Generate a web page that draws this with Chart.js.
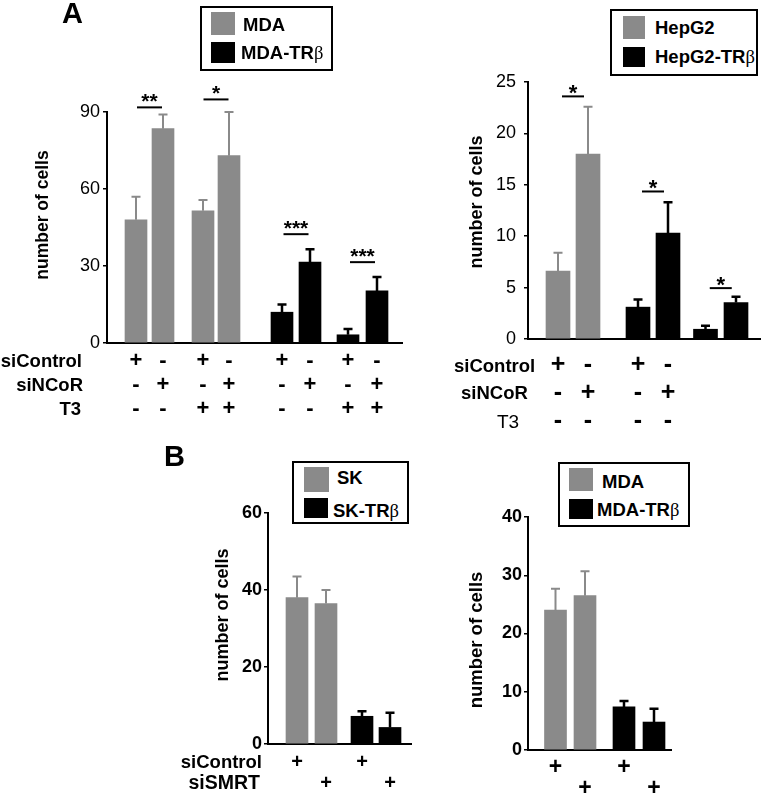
<!DOCTYPE html>
<html><head><meta charset="utf-8">
<script src="https://cdn.jsdelivr.net/npm/chart.js@4"></script>
<style>
html,body{margin:0;padding:0;background:#fff;}
#wrap{position:relative;width:762px;height:797px;overflow:hidden;font-family:"Liberation Sans",Arial,sans-serif;color:#000;}
canvas{position:absolute;left:0;top:0;}
.letter{position:absolute;font-weight:bold;font-size:29px;line-height:1;transform:translateY(-50%);}
.leg{position:absolute;border:2px solid #000;box-sizing:border-box;background:#fff;}
.sw{position:absolute;}
.lt{position:absolute;font-weight:bold;font-size:18.5px;line-height:1;white-space:nowrap;transform:translateY(-50%);}
.beta{font-family:"Liberation Serif","DejaVu Serif",serif;font-weight:normal;}
</style>
</head><body>
<div id="wrap">
  <div class="letter" style="left:62px;top:13px;">A</div>
  <div class="letter" style="left:164px;top:456px;">B</div>

  <div class="leg" style="left:200px;top:6px;width:133px;height:65px;"></div>
  <div class="sw" style="left:211px;top:12px;width:24px;height:23px;background:#8a8a8a;"></div>
  <div class="sw" style="left:211px;top:42px;width:24px;height:21px;background:#000;"></div>
  <div class="lt" style="left:243px;top:25px;">MDA</div>
  <div class="lt" style="left:241px;top:53px;">MDA-TR<span class="beta">β</span></div>

  <div class="leg" style="left:610px;top:9px;width:148px;height:67px;"></div>
  <div class="sw" style="left:623px;top:16px;width:22px;height:23px;background:#8a8a8a;"></div>
  <div class="sw" style="left:623px;top:47px;width:22px;height:20px;background:#000;"></div>
  <div class="lt" style="left:655px;top:28px;">HepG2</div>
  <div class="lt" style="left:655px;top:57px;">HepG2-TR<span class="beta">β</span></div>

  <div class="leg" style="left:292px;top:461px;width:117px;height:63px;"></div>
  <div class="sw" style="left:304px;top:467px;width:25px;height:25px;background:#8a8a8a;"></div>
  <div class="sw" style="left:304px;top:498px;width:24px;height:20px;background:#000;"></div>
  <div class="lt" style="left:337px;top:478px;">SK</div>
  <div class="lt" style="left:333px;top:511px;">SK-TR<span class="beta">β</span></div>

  <div class="leg" style="left:558px;top:462px;width:132px;height:65px;"></div>
  <div class="sw" style="left:569px;top:468px;width:24px;height:23px;background:#8a8a8a;"></div>
  <div class="sw" style="left:569px;top:499px;width:24px;height:20px;background:#000;"></div>
  <div class="lt" style="left:602px;top:482px;">MDA</div>
  <div class="lt" style="left:597px;top:510px;">MDA-TR<span class="beta">β</span></div>
</div>
<script>
// ---------- DATA ----------
// Panel A (left): MDA vs MDA-TRβ, siControl / siNCoR, ± T3
const A1_seriesNames = ['MDA', 'MDA-TRβ'];
const A1_mda      = [48, 83.5, 51.5, 73];
const A1_mda_err  = [9, 5.5, 4.2, 17];
const A1_tr       = [12, 31.5, 3.2, 20.3];
const A1_tr_err   = [3, 5, 2.3, 5.4];
const A1_siControl = ['+','-','+','-','+','-','+','-'];
const A1_siNCoR    = ['-','+','-','+','-','+','-','+'];
const A1_T3        = ['-','-','+','+','-','-','+','+'];
const A1_sig       = ['**','*','***','***'];
const A1_sigLevel  = [91.8, 94.9, 42.4, 31.5];
const A1_ticks     = [0, 30, 60, 90];

// Panel A (right): HepG2 vs HepG2-TRβ
const A2_seriesNames = ['HepG2', 'HepG2-TRβ'];
const A2_hep      = [6.6, 18.0];
const A2_hep_err  = [1.8, 4.6];
const A2_tr       = [3.1, 10.3, 0.95, 3.55];
const A2_tr_err   = [0.75, 3.0, 0.35, 0.55];
const A2_siControl = ['+','-','+','-','',''];
const A2_siNCoR    = ['-','+','-','+','',''];
const A2_T3        = ['-','-','-','-','',''];
const A2_sig       = ['*','*','*'];
const A2_sigLevel  = [23.6, 14.35, 4.95];
const A2_ticks     = [0, 5, 10, 15, 20, 25];

// Panel B (left): SK vs SK-TRβ, siControl / siSMRT
const B1_seriesNames = ['SK', 'SK-TRβ'];
const B1_sk       = [38, 36.5];
const B1_sk_err   = [5.5, 3.5];
const B1_tr       = [7.2, 4.3];
const B1_tr_err   = [1.3, 3.8];
const B1_siControl = ['+','','+',''];
const B1_siSMRT    = ['','+','','+'];
const B1_ticks     = [0, 20, 40, 60];

// Panel B (right): MDA vs MDA-TRβ
const B2_seriesNames = ['MDA', 'MDA-TRβ'];
const B2_mda      = [24, 26.5];
const B2_mda_err  = [3.7, 4.2];
const B2_tr       = [7.4, 4.8];
const B2_tr_err   = [1.0, 2.3];
const B2_row1     = ['+','','+',''];
const B2_row2     = ['','+','','+'];
const B2_ticks    = [0, 10, 20, 30, 40];

const GRAY = '#8a8a8a', BLACK = '#000000';
const FONT = '"Liberation Sans", Arial, sans-serif';

// ---------- drawing plugin (error bars, significance, condition table, axis title) ----------
const panelPlugin = {
  id: 'panel',
  afterDatasetsDraw(chart, args, o) {
    const ctx = chart.ctx, xs = chart.scales.x, ys = chart.scales.y;
    ctx.save();
    // error bars
    chart.data.datasets.forEach((ds, di) => {
      const errs = o.errors[di];
      ds.data.forEach((p, i) => {
        const x = xs.getPixelForValue(p.x);
        const y0 = ys.getPixelForValue(p.y);
        const y1 = ys.getPixelForValue(p.y + errs[i]);
        ctx.strokeStyle = ds.backgroundColor;
        ctx.lineWidth = ds.backgroundColor === BLACK ? 2.5 : 2;
        ctx.beginPath();
        ctx.moveTo(x, y0); ctx.lineTo(x, y1);
        ctx.moveTo(x - 4.5, y1); ctx.lineTo(x + 4.5, y1);
        ctx.stroke();
      });
    });
    // significance brackets
    const all = [];
    chart.data.datasets.forEach(ds => ds.data.forEach(p => all.push(p.x)));
    all.sort((a, b) => a - b);
    (o.sig || []).forEach((s, k) => {
      const xa = xs.getPixelForValue(all[2 * k]);
      const xb = xs.getPixelForValue(all[2 * k + 1]);
      const mid = (xa + xb) / 2;
      const y = ys.getPixelForValue(o.sigLevel[k]);
      ctx.strokeStyle = '#000'; ctx.lineWidth = 2;
      ctx.beginPath(); ctx.moveTo(mid - o.sigHalf, y); ctx.lineTo(mid + o.sigHalf, y); ctx.stroke();
      ctx.fillStyle = '#000';
      ctx.font = 'bold ' + o.starSize + 'px ' + FONT;
      ctx.textAlign = 'center'; ctx.textBaseline = 'alphabetic';
      ctx.fillText(s, mid, y + o.starDy);
    });
    // condition table
    const bottom = chart.chartArea.bottom;
    o.rows.forEach(r => {
      const y = bottom + r.dy;
      ctx.fillStyle = '#000';
      ctx.textBaseline = 'middle';
      ctx.font = 'bold ' + o.signSize + 'px ' + FONT;
      ctx.textAlign = 'center';
      r.signs.forEach((sg, i) => { if (sg) ctx.fillText(sg, xs.getPixelForValue(all[i]), y); });
      if (r.label) {
        ctx.font = r.font + ' ' + FONT;
        ctx.textAlign = r.align;
        ctx.fillText(r.label, r.lx, y + 1);
      }
    });
    // y axis title
    const t = o.title;
    ctx.translate(t.x, t.y);
    ctx.rotate(-Math.PI / 2);
    ctx.font = 'bold ' + t.size + 'px ' + FONT;
    ctx.textAlign = 'center'; ctx.textBaseline = 'middle';
    ctx.fillStyle = '#000';
    ctx.fillText('number of cells', 0, 0);
    ctx.restore();
  }
};

const wrap = document.getElementById('wrap');
function makePanel(cfg) {
  const cv = document.createElement('canvas');
  cv.width = 762; cv.height = 797;
  wrap.insertBefore(cv, wrap.firstChild);
  const L = cfg.layout;
  const nA = cfg.a.length;
  const datasets = [
    { label: cfg.names[0], data: cfg.a.map((v, i) => ({ x: L.xs[i], y: v })), backgroundColor: GRAY },
    { label: cfg.names[1], data: cfg.b.map((v, i) => ({ x: L.xs[nA + i], y: v })), backgroundColor: BLACK }
  ];
  datasets.forEach(d => { d.barThickness = L.barW; d.grouped = false; d.borderWidth = 0; });
  return new Chart(cv, {
    type: 'bar',
    data: { datasets },
    options: {
      responsive: false, animation: false, devicePixelRatio: 1, events: [],
      layout: { padding: { left: L.axisX - 60, top: L.top, right: 762 - (L.axisX + L.len), bottom: 797 - L.bottom - 10 } },
      plugins: {
        legend: { display: false }, tooltip: { enabled: false },
        panel: Object.assign({ errors: [cfg.aErr, cfg.bErr] }, cfg.extra)
      },
      scales: {
        x: {
          type: 'linear', min: 0, max: L.len, offset: false,
          grid: { display: false }, ticks: { display: false },
          border: { display: true, color: '#000', width: 2 },
          afterFit(s) { s.height = 10; }
        },
        y: {
          min: 0, max: cfg.ticks[cfg.ticks.length - 1],
          afterBuildTicks(s) { s.ticks = cfg.ticks.map(v => ({ value: v })); },
          ticks: { color: '#000', padding: L.tickPad, font: { family: FONT, size: L.tickSize, weight: L.tickWeight } },
          grid: { display: true, drawOnChartArea: false, drawTicks: true, tickLength: 4, color: '#000', lineWidth: 1.5 },
          border: { display: true, color: '#000', width: 2 },
          afterFit(s) { s.width = 60; }
        }
      }
    },
    plugins: [panelPlugin]
  });
}

// Panel A left
makePanel({
  names: A1_seriesNames, a: A1_mda, aErr: A1_mda_err, b: A1_tr, bErr: A1_tr_err, ticks: A1_ticks,
  layout: { axisX: 107, len: 295, top: 112, bottom: 343, xs: [29, 56, 96, 122, 175, 203, 241, 270], barW: 22, tickPad: 3, tickSize: 18, tickWeight: 'normal' },
  extra: {
    sig: A1_sig, sigLevel: A1_sigLevel, sigHalf: 12.5, starSize: 21, starDy: 1,
    signSize: 22,
    rows: [
      { label: 'siControl', signs: A1_siControl, dy: 18, lx: 82, align: 'right', font: 'bold 18.5px' },
      { label: 'siNCoR', signs: A1_siNCoR, dy: 42, lx: 83, align: 'right', font: 'bold 18.5px' },
      { label: 'T3', signs: A1_T3, dy: 66, lx: 81, align: 'right', font: 'bold 18.5px' }
    ],
    title: { x: 43, y: 215, size: 17.5 }
  }
});

// Panel A right
makePanel({
  names: A2_seriesNames, a: A2_hep, aErr: A2_hep_err, b: A2_tr, bErr: A2_tr_err, ticks: A2_ticks,
  layout: { axisX: 528, len: 232, top: 82, bottom: 339, xs: [30, 60, 110, 140, 177.5, 208], barW: 24, tickPad: 8, tickSize: 18, tickWeight: 'normal' },
  extra: {
    sig: A2_sig, sigLevel: A2_sigLevel, sigHalf: 11, starSize: 22, starDy: 4,
    signSize: 25,
    rows: [
      { label: 'siControl', signs: A2_siControl, dy: 26.5, lx: 454, align: 'left', font: 'bold 18.5px' },
      { label: 'siNCoR', signs: A2_siNCoR, dy: 54, lx: 461, align: 'left', font: 'bold 18.5px' },
      { label: 'T3', signs: A2_T3, dy: 82.5, lx: 497, align: 'left', font: 'normal 19px' }
    ],
    title: { x: 477, y: 202, size: 18 }
  }
});

// Panel B left
makePanel({
  names: B1_seriesNames, a: B1_sk, aErr: B1_sk_err, b: B1_tr, bErr: B1_tr_err, ticks: B1_ticks,
  layout: { axisX: 268, len: 143, top: 513, bottom: 744, xs: [29, 58, 94, 122], barW: 22, tickPad: 2, tickSize: 18, tickWeight: 'bold' },
  extra: {
    sig: [], sigLevel: [], sigHalf: 0, starSize: 20, starDy: 0,
    signSize: 20,
    rows: [
      { label: 'siControl', signs: B1_siControl, dy: 18, lx: 262, align: 'right', font: 'bold 18.5px' },
      { label: 'siSMRT', signs: B1_siSMRT, dy: 39, lx: 260, align: 'right', font: 'bold 19.5px' }
    ],
    title: { x: 223, y: 615, size: 18 }
  }
});

// Panel B right
makePanel({
  names: B2_seriesNames, a: B2_mda, aErr: B2_mda_err, b: B2_tr, bErr: B2_tr_err, ticks: B2_ticks,
  layout: { axisX: 528, len: 143, top: 517, bottom: 750, xs: [27.5, 57, 96, 126], barW: 22, tickPad: 2, tickSize: 18, tickWeight: 'bold' },
  extra: {
    sig: [], sigLevel: [], sigHalf: 0, starSize: 20, starDy: 0,
    signSize: 23,
    rows: [
      { label: '', signs: B2_row1, dy: 18 },
      { label: '', signs: B2_row2, dy: 39 }
    ],
    title: { x: 477, y: 640, size: 18.5 }
  }
});
</script>
</body></html>
